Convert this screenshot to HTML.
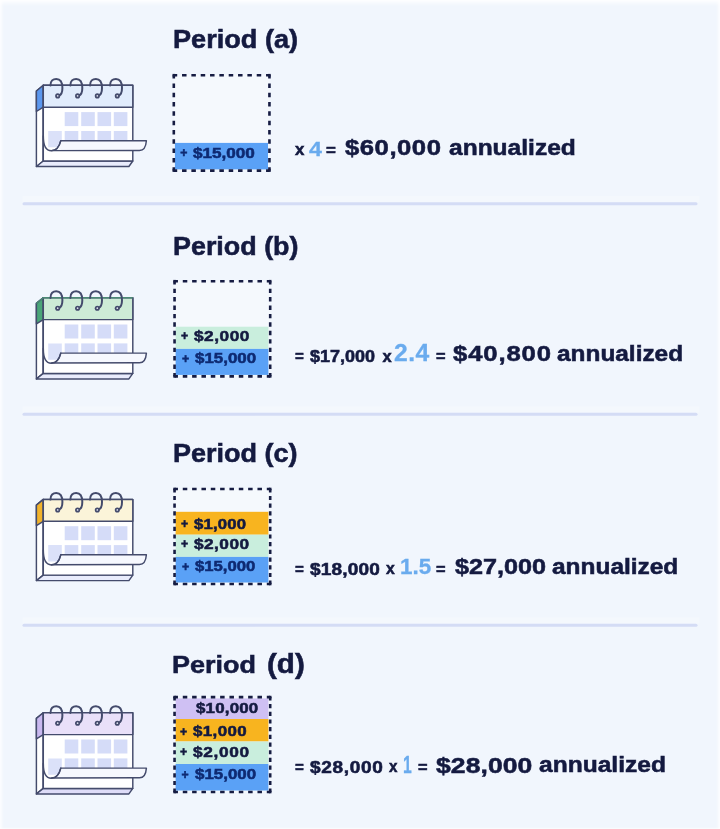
<!DOCTYPE html>
<html lang="en">
<head>
<meta charset="utf-8">
<title>Annualized income periods</title>
<style>
html,body{margin:0;padding:0;}
body{width:720px;height:829px;overflow:hidden;background:#f1f6fd;font-family:"Liberation Sans",sans-serif;}
#stage{position:relative;width:720px;height:829px;overflow:hidden;background:#f1f6fd;
  box-shadow:inset 0 5px 4px -2px rgba(255,255,255,.9), inset 3px 0 3px -1px rgba(255,255,255,.8), inset -3px 0 3px -1px rgba(255,255,255,.8), inset 0 -2px 2px -1px rgba(255,255,255,.7);}
#content{position:absolute;left:0;top:0;width:720px;height:829px;filter:blur(0.45px);}
#art{position:absolute;left:0;top:0;width:720px;height:829px;}
.t{position:absolute;white-space:pre;font-weight:bold;transform-origin:0 50%;font-family:"Liberation Sans",sans-serif;-webkit-text-stroke:0.55px currentColor;}
</style>
</head>
<body>
<div id="stage">
<div id="content">
<svg id="art" width="720" height="829" viewBox="0 0 720 829">
<path d="M43.3 85.3 L36.4 91.0 L36.4 166.5 L43.3 161.0 Z" fill="#ffffff" stroke="#444b6c" stroke-width="1.45" stroke-linejoin="round"/>
<path d="M43.3 161.0 L132.8 161.0 L128.9 166.5 L36.4 166.5 Z" fill="#e9ecfc" stroke="#444b6c" stroke-width="1.45" stroke-linejoin="round"/>
<path d="M43.3 85.3 L36.4 91.0 L36.4 111.5 L43.3 107.2 Z" fill="#5b97ee" stroke="#444b6c" stroke-width="1.45" stroke-linejoin="round"/>
<rect x="43.3" y="85.3" width="89.5" height="75.7" fill="#ffffff" stroke="#444b6c" stroke-width="1.45" stroke-linejoin="round"/>
<rect x="43.3" y="85.3" width="89.5" height="21.9" fill="#e1ecfc" stroke="#444b6c" stroke-width="1.45" stroke-linejoin="round"/>
<rect x="64.7" y="112.1" width="13.6" height="14" fill="#d5dcf8"/>
<rect x="81.2" y="112.1" width="13.6" height="14" fill="#d5dcf8"/>
<rect x="97.5" y="112.1" width="13.6" height="14" fill="#d5dcf8"/>
<rect x="113.8" y="112.1" width="13.6" height="14" fill="#d5dcf8"/>
<path d="M48.2 131.0 L61.8 131.0 L61.8 141.0 L60.6 141.0 C59.8 144.0 58.8 146.0 57.5 147.3 L48.2 147.3 Z" fill="#d5dcf8" opacity="0.85"/>
<rect x="64.7" y="131.0" width="13.6" height="10" fill="#d5dcf8"/>
<rect x="81.2" y="131.0" width="13.6" height="10" fill="#d5dcf8"/>
<rect x="97.5" y="131.0" width="13.6" height="10" fill="#d5dcf8"/>
<rect x="113.8" y="131.0" width="13.6" height="10" fill="#d5dcf8"/>
<path d="M60.8 140.7 L146.4 140.7 C146 146.0 144 150.4 139.5 150.4 L51.5 150.6 C56.5 150.6 59.5 146.0 60.8 140.7 Z" fill="#f6f8fe" stroke="#444b6c" stroke-width="1.45" stroke-linejoin="round"/>
<path d="M43.3 136.0 C43.3 146.5 46 150.8 51.3 150.8 C56.5 150.8 59.5 146.0 60.8 140.7" fill="none" stroke="#444b6c" stroke-width="1.45" stroke-linecap="round"/>
<path d="M43.3 107.0 L43.3 161.0" stroke="#444b6c" stroke-width="1.45" fill="none"/>
<path d="M50.50 85.5 C50.30 80.7 53.10 78.9 56.30 78.9 C60.30 78.9 62.40 82.7 62.40 87.9 C62.40 92.3 61.10 94.7 59.10 95.5" fill="none" stroke="#444b6c" stroke-width="2" stroke-linecap="round"/>
<circle cx="57.70" cy="95.9" r="2.55" fill="#444b6c"/>
<circle cx="57.70" cy="95.8" r="0.85" fill="#d9ddea"/>
<path d="M70.40 85.5 C70.20 80.7 73.00 78.9 76.20 78.9 C80.20 78.9 82.30 82.7 82.30 87.9 C82.30 92.3 81.00 94.7 79.00 95.5" fill="none" stroke="#444b6c" stroke-width="2" stroke-linecap="round"/>
<circle cx="77.60" cy="95.9" r="2.55" fill="#444b6c"/>
<circle cx="77.60" cy="95.8" r="0.85" fill="#d9ddea"/>
<path d="M90.10 85.5 C89.90 80.7 92.70 78.9 95.90 78.9 C99.90 78.9 102.00 82.7 102.00 87.9 C102.00 92.3 100.70 94.7 98.70 95.5" fill="none" stroke="#444b6c" stroke-width="2" stroke-linecap="round"/>
<circle cx="97.30" cy="95.9" r="2.55" fill="#444b6c"/>
<circle cx="97.30" cy="95.8" r="0.85" fill="#d9ddea"/>
<path d="M110.10 85.5 C109.90 80.7 112.70 78.9 115.90 78.9 C119.90 78.9 122.00 82.7 122.00 87.9 C122.00 92.3 120.70 94.7 118.70 95.5" fill="none" stroke="#444b6c" stroke-width="2" stroke-linecap="round"/>
<circle cx="117.30" cy="95.9" r="2.55" fill="#444b6c"/>
<circle cx="117.30" cy="95.8" r="0.85" fill="#d9ddea"/>
<path d="M43.3 297.7 L36.4 303.4 L36.4 378.9 L43.3 373.4 Z" fill="#ffffff" stroke="#444b6c" stroke-width="1.45" stroke-linejoin="round"/>
<path d="M43.3 373.4 L132.8 373.4 L128.9 378.9 L36.4 378.9 Z" fill="#e9ecfc" stroke="#444b6c" stroke-width="1.45" stroke-linejoin="round"/>
<path d="M43.3 297.7 L36.4 303.4 L36.4 323.9 L43.3 319.6 Z" fill="#4aa578" stroke="#444b6c" stroke-width="1.45" stroke-linejoin="round"/>
<rect x="43.3" y="297.7" width="89.5" height="75.7" fill="#ffffff" stroke="#444b6c" stroke-width="1.45" stroke-linejoin="round"/>
<rect x="43.3" y="297.7" width="89.5" height="21.9" fill="#cdebd6" stroke="#444b6c" stroke-width="1.45" stroke-linejoin="round"/>
<path d="M36.3 303.4 L43.3 297.7 L132.8 297.7" fill="none" stroke="#4c8a75" stroke-width="1.45" stroke-linejoin="round"/>
<rect x="64.7" y="324.5" width="13.6" height="14" fill="#d5dcf8"/>
<rect x="81.2" y="324.5" width="13.6" height="14" fill="#d5dcf8"/>
<rect x="97.5" y="324.5" width="13.6" height="14" fill="#d5dcf8"/>
<rect x="113.8" y="324.5" width="13.6" height="14" fill="#d5dcf8"/>
<path d="M48.2 343.4 L61.8 343.4 L61.8 353.4 L60.6 353.4 C59.8 356.4 58.8 358.4 57.5 359.7 L48.2 359.7 Z" fill="#d5dcf8" opacity="0.85"/>
<rect x="64.7" y="343.4" width="13.6" height="10" fill="#d5dcf8"/>
<rect x="81.2" y="343.4" width="13.6" height="10" fill="#d5dcf8"/>
<rect x="97.5" y="343.4" width="13.6" height="10" fill="#d5dcf8"/>
<rect x="113.8" y="343.4" width="13.6" height="10" fill="#d5dcf8"/>
<path d="M60.8 353.1 L146.4 353.1 C146 358.4 144 362.8 139.5 362.8 L51.5 363.0 C56.5 363.0 59.5 358.4 60.8 353.1 Z" fill="#f6f8fe" stroke="#444b6c" stroke-width="1.45" stroke-linejoin="round"/>
<path d="M43.3 348.4 C43.3 358.9 46 363.2 51.3 363.2 C56.5 363.2 59.5 358.4 60.8 353.1" fill="none" stroke="#444b6c" stroke-width="1.45" stroke-linecap="round"/>
<path d="M43.3 319.4 L43.3 373.4" stroke="#444b6c" stroke-width="1.45" fill="none"/>
<path d="M50.50 297.9 C50.30 293.1 53.10 291.3 56.30 291.3 C60.30 291.3 62.40 295.1 62.40 300.3 C62.40 304.7 61.10 307.1 59.10 307.9" fill="none" stroke="#444b6c" stroke-width="2" stroke-linecap="round"/>
<circle cx="57.70" cy="308.3" r="2.55" fill="#444b6c"/>
<circle cx="57.70" cy="308.2" r="0.85" fill="#d9ddea"/>
<path d="M70.40 297.9 C70.20 293.1 73.00 291.3 76.20 291.3 C80.20 291.3 82.30 295.1 82.30 300.3 C82.30 304.7 81.00 307.1 79.00 307.9" fill="none" stroke="#444b6c" stroke-width="2" stroke-linecap="round"/>
<circle cx="77.60" cy="308.3" r="2.55" fill="#444b6c"/>
<circle cx="77.60" cy="308.2" r="0.85" fill="#d9ddea"/>
<path d="M90.10 297.9 C89.90 293.1 92.70 291.3 95.90 291.3 C99.90 291.3 102.00 295.1 102.00 300.3 C102.00 304.7 100.70 307.1 98.70 307.9" fill="none" stroke="#444b6c" stroke-width="2" stroke-linecap="round"/>
<circle cx="97.30" cy="308.3" r="2.55" fill="#444b6c"/>
<circle cx="97.30" cy="308.2" r="0.85" fill="#d9ddea"/>
<path d="M110.10 297.9 C109.90 293.1 112.70 291.3 115.90 291.3 C119.90 291.3 122.00 295.1 122.00 300.3 C122.00 304.7 120.70 307.1 118.70 307.9" fill="none" stroke="#444b6c" stroke-width="2" stroke-linecap="round"/>
<circle cx="117.30" cy="308.3" r="2.55" fill="#444b6c"/>
<circle cx="117.30" cy="308.2" r="0.85" fill="#d9ddea"/>
<path d="M43.3 499.4 L36.4 505.1 L36.4 580.6 L43.3 575.1 Z" fill="#ffffff" stroke="#444b6c" stroke-width="1.45" stroke-linejoin="round"/>
<path d="M43.3 575.1 L132.8 575.1 L128.9 580.6 L36.4 580.6 Z" fill="#e9ecfc" stroke="#444b6c" stroke-width="1.45" stroke-linejoin="round"/>
<path d="M43.3 499.4 L36.4 505.1 L36.4 525.6 L43.3 521.3 Z" fill="#f2b32b" stroke="#444b6c" stroke-width="1.45" stroke-linejoin="round"/>
<rect x="43.3" y="499.4" width="89.5" height="75.7" fill="#ffffff" stroke="#444b6c" stroke-width="1.45" stroke-linejoin="round"/>
<rect x="43.3" y="499.4" width="89.5" height="21.9" fill="#fbf4d9" stroke="#444b6c" stroke-width="1.45" stroke-linejoin="round"/>
<rect x="64.7" y="526.2" width="13.6" height="14" fill="#d5dcf8"/>
<rect x="81.2" y="526.2" width="13.6" height="14" fill="#d5dcf8"/>
<rect x="97.5" y="526.2" width="13.6" height="14" fill="#d5dcf8"/>
<rect x="113.8" y="526.2" width="13.6" height="14" fill="#d5dcf8"/>
<path d="M48.2 545.1 L61.8 545.1 L61.8 555.1 L60.6 555.1 C59.8 558.1 58.8 560.1 57.5 561.4 L48.2 561.4 Z" fill="#d5dcf8" opacity="0.85"/>
<rect x="64.7" y="545.1" width="13.6" height="10" fill="#d5dcf8"/>
<rect x="81.2" y="545.1" width="13.6" height="10" fill="#d5dcf8"/>
<rect x="97.5" y="545.1" width="13.6" height="10" fill="#d5dcf8"/>
<rect x="113.8" y="545.1" width="13.6" height="10" fill="#d5dcf8"/>
<path d="M60.8 554.8 L146.4 554.8 C146 560.1 144 564.5 139.5 564.5 L51.5 564.7 C56.5 564.7 59.5 560.1 60.8 554.8 Z" fill="#f6f8fe" stroke="#444b6c" stroke-width="1.45" stroke-linejoin="round"/>
<path d="M43.3 550.1 C43.3 560.6 46 564.9 51.3 564.9 C56.5 564.9 59.5 560.1 60.8 554.8" fill="none" stroke="#444b6c" stroke-width="1.45" stroke-linecap="round"/>
<path d="M43.3 521.1 L43.3 575.1" stroke="#444b6c" stroke-width="1.45" fill="none"/>
<path d="M50.50 499.6 C50.30 494.8 53.10 493.0 56.30 493.0 C60.30 493.0 62.40 496.8 62.40 502.0 C62.40 506.4 61.10 508.8 59.10 509.6" fill="none" stroke="#444b6c" stroke-width="2" stroke-linecap="round"/>
<circle cx="57.70" cy="510.0" r="2.55" fill="#444b6c"/>
<circle cx="57.70" cy="509.9" r="0.85" fill="#d9ddea"/>
<path d="M70.40 499.6 C70.20 494.8 73.00 493.0 76.20 493.0 C80.20 493.0 82.30 496.8 82.30 502.0 C82.30 506.4 81.00 508.8 79.00 509.6" fill="none" stroke="#444b6c" stroke-width="2" stroke-linecap="round"/>
<circle cx="77.60" cy="510.0" r="2.55" fill="#444b6c"/>
<circle cx="77.60" cy="509.9" r="0.85" fill="#d9ddea"/>
<path d="M90.10 499.6 C89.90 494.8 92.70 493.0 95.90 493.0 C99.90 493.0 102.00 496.8 102.00 502.0 C102.00 506.4 100.70 508.8 98.70 509.6" fill="none" stroke="#444b6c" stroke-width="2" stroke-linecap="round"/>
<circle cx="97.30" cy="510.0" r="2.55" fill="#444b6c"/>
<circle cx="97.30" cy="509.9" r="0.85" fill="#d9ddea"/>
<path d="M110.10 499.6 C109.90 494.8 112.70 493.0 115.90 493.0 C119.90 493.0 122.00 496.8 122.00 502.0 C122.00 506.4 120.70 508.8 118.70 509.6" fill="none" stroke="#444b6c" stroke-width="2" stroke-linecap="round"/>
<circle cx="117.30" cy="510.0" r="2.55" fill="#444b6c"/>
<circle cx="117.30" cy="509.9" r="0.85" fill="#d9ddea"/>
<path d="M43.3 712.7 L36.4 718.4 L36.4 793.9 L43.3 788.4 Z" fill="#ffffff" stroke="#444b6c" stroke-width="1.45" stroke-linejoin="round"/>
<path d="M43.3 788.4 L132.8 788.4 L128.9 793.9 L36.4 793.9 Z" fill="#dedcf8" stroke="#444b6c" stroke-width="1.45" stroke-linejoin="round"/>
<path d="M43.3 712.7 L36.4 718.4 L36.4 738.9 L43.3 734.6 Z" fill="#c9b8ef" stroke="#444b6c" stroke-width="1.45" stroke-linejoin="round"/>
<rect x="43.3" y="712.7" width="89.5" height="75.7" fill="#ffffff" stroke="#444b6c" stroke-width="1.45" stroke-linejoin="round"/>
<rect x="43.3" y="712.7" width="89.5" height="21.9" fill="#e9e0f9" stroke="#444b6c" stroke-width="1.45" stroke-linejoin="round"/>
<rect x="64.7" y="739.5" width="13.6" height="14" fill="#d5dcf8"/>
<rect x="81.2" y="739.5" width="13.6" height="14" fill="#d5dcf8"/>
<rect x="97.5" y="739.5" width="13.6" height="14" fill="#d5dcf8"/>
<rect x="113.8" y="739.5" width="13.6" height="14" fill="#d5dcf8"/>
<path d="M48.2 758.4 L61.8 758.4 L61.8 768.4 L60.6 768.4 C59.8 771.4 58.8 773.4 57.5 774.7 L48.2 774.7 Z" fill="#d5dcf8" opacity="0.85"/>
<rect x="64.7" y="758.4" width="13.6" height="10" fill="#d5dcf8"/>
<rect x="81.2" y="758.4" width="13.6" height="10" fill="#d5dcf8"/>
<rect x="97.5" y="758.4" width="13.6" height="10" fill="#d5dcf8"/>
<rect x="113.8" y="758.4" width="13.6" height="10" fill="#d5dcf8"/>
<path d="M60.8 768.1 L146.4 768.1 C146 773.4 144 777.8 139.5 777.8 L51.5 778.0 C56.5 778.0 59.5 773.4 60.8 768.1 Z" fill="#f6f8fe" stroke="#444b6c" stroke-width="1.45" stroke-linejoin="round"/>
<path d="M43.3 763.4 C43.3 773.9 46 778.2 51.3 778.2 C56.5 778.2 59.5 773.4 60.8 768.1" fill="none" stroke="#444b6c" stroke-width="1.45" stroke-linecap="round"/>
<path d="M43.3 734.4 L43.3 788.4" stroke="#444b6c" stroke-width="1.45" fill="none"/>
<path d="M50.50 712.9 C50.30 708.1 53.10 706.3 56.30 706.3 C60.30 706.3 62.40 710.1 62.40 715.3 C62.40 719.7 61.10 722.1 59.10 722.9" fill="none" stroke="#444b6c" stroke-width="2" stroke-linecap="round"/>
<circle cx="57.70" cy="723.3" r="2.55" fill="#444b6c"/>
<circle cx="57.70" cy="723.2" r="0.85" fill="#d9ddea"/>
<path d="M70.40 712.9 C70.20 708.1 73.00 706.3 76.20 706.3 C80.20 706.3 82.30 710.1 82.30 715.3 C82.30 719.7 81.00 722.1 79.00 722.9" fill="none" stroke="#444b6c" stroke-width="2" stroke-linecap="round"/>
<circle cx="77.60" cy="723.3" r="2.55" fill="#444b6c"/>
<circle cx="77.60" cy="723.2" r="0.85" fill="#d9ddea"/>
<path d="M90.10 712.9 C89.90 708.1 92.70 706.3 95.90 706.3 C99.90 706.3 102.00 710.1 102.00 715.3 C102.00 719.7 100.70 722.1 98.70 722.9" fill="none" stroke="#444b6c" stroke-width="2" stroke-linecap="round"/>
<circle cx="97.30" cy="723.3" r="2.55" fill="#444b6c"/>
<circle cx="97.30" cy="723.2" r="0.85" fill="#d9ddea"/>
<path d="M110.10 712.9 C109.90 708.1 112.70 706.3 115.90 706.3 C119.90 706.3 122.00 710.1 122.00 715.3 C122.00 719.7 120.70 722.1 118.70 722.9" fill="none" stroke="#444b6c" stroke-width="2" stroke-linecap="round"/>
<circle cx="117.30" cy="723.3" r="2.55" fill="#444b6c"/>
<circle cx="117.30" cy="723.2" r="0.85" fill="#d9ddea"/>
<rect x="173.8" y="75.2" width="95.65" height="95.4" fill="#ffffff" opacity="0.3"/>
<rect x="174.9" y="142.9" width="93.1" height="26.5" fill="#5aa1f6"/>
<line x1="173.8" y1="75.2" x2="269.45" y2="75.2" stroke="#161c42" stroke-width="2.6" stroke-dasharray="4.5 4.835" stroke-dashoffset="1.100"/>
<line x1="269.45" y1="75.2" x2="269.45" y2="170.6" stroke="#161c42" stroke-width="2.6" stroke-dasharray="4.5 4.810" stroke-dashoffset="1.100"/>
<line x1="173.8" y1="170.6" x2="269.45" y2="170.6" stroke="#161c42" stroke-width="2.6" stroke-dasharray="4.5 4.835" stroke-dashoffset="1.100"/>
<line x1="173.8" y1="75.2" x2="173.8" y2="170.6" stroke="#161c42" stroke-width="2.6" stroke-dasharray="4.5 4.810" stroke-dashoffset="1.100"/>
<rect x="172.50" y="73.90" width="2.6" height="2.6" fill="#161c42"/>
<rect x="268.15" y="73.90" width="2.6" height="2.6" fill="#161c42"/>
<rect x="172.50" y="169.30" width="2.6" height="2.6" fill="#161c42"/>
<rect x="268.15" y="169.30" width="2.6" height="2.6" fill="#161c42"/>
<rect x="174.55" y="281.2" width="95.65" height="95.15" fill="#ffffff" opacity="0.3"/>
<rect x="175.6" y="326.7" width="92.8" height="22.2" fill="#c9eedd"/>
<rect x="175.6" y="348.9" width="92.8" height="26.0" fill="#5aa1f6"/>
<line x1="174.55" y1="281.2" x2="270.2" y2="281.2" stroke="#161c42" stroke-width="2.6" stroke-dasharray="4.5 4.835" stroke-dashoffset="1.100"/>
<line x1="270.2" y1="281.2" x2="270.2" y2="376.35" stroke="#161c42" stroke-width="2.6" stroke-dasharray="4.4 4.032" stroke-dashoffset="1.000"/>
<line x1="174.55" y1="376.35" x2="270.2" y2="376.35" stroke="#161c42" stroke-width="2.6" stroke-dasharray="4.5 4.835" stroke-dashoffset="1.100"/>
<line x1="174.55" y1="281.2" x2="174.55" y2="376.35" stroke="#161c42" stroke-width="2.6" stroke-dasharray="4.4 4.032" stroke-dashoffset="1.000"/>
<rect x="173.25" y="279.90" width="2.6" height="2.6" fill="#161c42"/>
<rect x="268.90" y="279.90" width="2.6" height="2.6" fill="#161c42"/>
<rect x="173.25" y="375.05" width="2.6" height="2.6" fill="#161c42"/>
<rect x="268.90" y="375.05" width="2.6" height="2.6" fill="#161c42"/>
<rect x="174.55" y="489.0" width="95.65" height="95.0" fill="#ffffff" opacity="0.3"/>
<rect x="175.6" y="511.8" width="92.8" height="22.9" fill="#f8b41f"/>
<rect x="175.6" y="534.7" width="92.8" height="22.2" fill="#c9eedd"/>
<rect x="175.6" y="556.9" width="92.8" height="25.6" fill="#5aa1f6"/>
<line x1="174.55" y1="489.0" x2="270.2" y2="489.0" stroke="#161c42" stroke-width="2.6" stroke-dasharray="4.5 4.835" stroke-dashoffset="1.100"/>
<line x1="270.2" y1="489.0" x2="270.2" y2="584.0" stroke="#161c42" stroke-width="2.6" stroke-dasharray="4.2 3.500" stroke-dashoffset="0.800"/>
<line x1="174.55" y1="584.0" x2="270.2" y2="584.0" stroke="#161c42" stroke-width="2.6" stroke-dasharray="4.5 4.835" stroke-dashoffset="1.100"/>
<line x1="174.55" y1="489.0" x2="174.55" y2="584.0" stroke="#161c42" stroke-width="2.6" stroke-dasharray="4.2 3.500" stroke-dashoffset="0.800"/>
<rect x="173.25" y="487.70" width="2.6" height="2.6" fill="#161c42"/>
<rect x="268.90" y="487.70" width="2.6" height="2.6" fill="#161c42"/>
<rect x="173.25" y="582.70" width="2.6" height="2.6" fill="#161c42"/>
<rect x="268.90" y="582.70" width="2.6" height="2.6" fill="#161c42"/>
<rect x="174.55" y="697.1" width="95.65" height="94.9" fill="#ffffff" opacity="0.3"/>
<rect x="175.6" y="698.4" width="92.8" height="20.6" fill="#cfc0f3"/>
<rect x="175.6" y="719.0" width="92.8" height="22.5" fill="#f8b41f"/>
<rect x="175.6" y="741.5" width="92.8" height="22.5" fill="#c9eedd"/>
<rect x="175.6" y="764.0" width="92.8" height="26.5" fill="#5aa1f6"/>
<line x1="174.55" y1="697.1" x2="270.2" y2="697.1" stroke="#161c42" stroke-width="2.6" stroke-dasharray="4.5 4.835" stroke-dashoffset="1.100"/>
<line x1="270.2" y1="697.1" x2="270.2" y2="792.0" stroke="#161c42" stroke-width="2.6" stroke-dasharray="4.2 3.492" stroke-dashoffset="0.800"/>
<line x1="174.55" y1="792.0" x2="270.2" y2="792.0" stroke="#161c42" stroke-width="2.6" stroke-dasharray="4.5 4.835" stroke-dashoffset="1.100"/>
<line x1="174.55" y1="697.1" x2="174.55" y2="792.0" stroke="#161c42" stroke-width="2.6" stroke-dasharray="4.2 3.492" stroke-dashoffset="0.800"/>
<rect x="173.25" y="695.80" width="2.6" height="2.6" fill="#161c42"/>
<rect x="268.90" y="695.80" width="2.6" height="2.6" fill="#161c42"/>
<rect x="173.25" y="790.70" width="2.6" height="2.6" fill="#161c42"/>
<rect x="268.90" y="790.70" width="2.6" height="2.6" fill="#161c42"/>
<rect x="22.5" y="195.8" width="677" height="6.5" fill="#ffffff" opacity="0.22"/>
<rect x="22.5" y="202.3" width="675" height="3" rx="1.5" fill="#d4dcf5"/>
<rect x="22.5" y="406.2" width="677" height="6.5" fill="#ffffff" opacity="0.22"/>
<rect x="22.5" y="412.7" width="675" height="3" rx="1.5" fill="#d4dcf5"/>
<rect x="22.5" y="617.3" width="677" height="6.5" fill="#ffffff" opacity="0.22"/>
<rect x="22.5" y="623.8" width="675" height="3" rx="1.5" fill="#d4dcf5"/>
</svg>
<section class="row" aria-label="Period (a)">
<span class="t" style="left:172.83px;top:26.63px;font-size:25.24px;line-height:25.24px;color:#141a40;letter-spacing:0.0px;transform:scaleX(1.0748)">Period (a)</span>
<span class="t" style="left:294.80px;top:141.35px;font-size:16.48px;line-height:16.48px;color:#141a40;letter-spacing:0.0px;transform:scaleX(1.0222)">x</span>
<span class="t" style="left:308.60px;top:137.50px;font-size:21.14px;line-height:21.14px;color:#6aabee;letter-spacing:0.0px;transform:scaleX(1.1);-webkit-text-stroke:0.3px currentColor">4</span>
<span class="t" style="left:326.00px;top:142.96px;font-size:16.0px;line-height:16.0px;color:#141a40;letter-spacing:0.0px;transform:scaleX(1.0556)">=</span>
<span class="t" style="left:344.50px;top:136.76px;font-size:22.14px;line-height:22.14px;color:#141a40;letter-spacing:0.45px;transform:scaleX(1.16)">$60,000</span>
<span class="t" style="left:448.50px;top:136.79px;font-size:22.1px;line-height:22.1px;color:#141a40;letter-spacing:0.0px;transform:scaleX(1.1106)">annualized</span>
<span class="t" style="left:192.90px;top:144.98px;font-size:15.14px;line-height:15.14px;color:#0e2a72;letter-spacing:0.0px;transform:scaleX(1.1315)">$15,000</span>
<span class="t p" style="left:180.24px;top:146.86px;font-size:12.2px;line-height:12.2px;color:#0e2a72">+</span>
</section>
<section class="row" aria-label="Period (b)">
<span class="t" style="left:172.83px;top:233.63px;font-size:25.24px;line-height:25.24px;color:#141a40;letter-spacing:0.0px;transform:scaleX(1.0655)">Period (b)</span>
<span class="t" style="left:295.30px;top:348.96px;font-size:16.0px;line-height:16.0px;color:#141a40;letter-spacing:0.0px;transform:scaleX(0.9444)">=</span>
<span class="t" style="left:310.00px;top:347.59px;font-size:16.43px;line-height:16.43px;color:#141a40;letter-spacing:0.0px;transform:scaleX(1.0966)">$17,000</span>
<span class="t" style="left:382.60px;top:347.65px;font-size:16.48px;line-height:16.48px;color:#141a40;letter-spacing:0.0px;transform:scaleX(1.0)">x</span>
<span class="t" style="left:394.44px;top:341.79px;font-size:23.29px;line-height:23.29px;color:#6aabee;letter-spacing:0.44px;transform:scaleX(1.06);-webkit-text-stroke:0.3px currentColor">2.4</span>
<span class="t" style="left:435.80px;top:348.96px;font-size:16.0px;line-height:16.0px;color:#141a40;letter-spacing:0.0px;transform:scaleX(1.0222)">=</span>
<span class="t" style="left:453.40px;top:342.76px;font-size:22.14px;line-height:22.14px;color:#141a40;letter-spacing:0.75px;transform:scaleX(1.16)">$40,800</span>
<span class="t" style="left:557.20px;top:342.79px;font-size:22.1px;line-height:22.1px;color:#141a40;letter-spacing:0.0px;transform:scaleX(1.1044)">annualized</span>
<span class="t" style="left:193.70px;top:328.72px;font-size:14.86px;line-height:14.86px;color:#141a40;letter-spacing:0.46px;transform:scaleX(1.16)">$2,000</span>
<span class="t" style="left:195.20px;top:351.05px;font-size:14.71px;line-height:14.71px;color:#0e2a72;letter-spacing:0.0px;transform:scaleX(1.1509)">$15,000</span>
<span class="t p" style="left:180.94px;top:330.46px;font-size:12.2px;line-height:12.2px;color:#141a40">+</span>
<span class="t p" style="left:182.04px;top:352.86px;font-size:12.2px;line-height:12.2px;color:#0e2a72">+</span>
</section>
<section class="row" aria-label="Period (c)">
<span class="t" style="left:172.83px;top:440.63px;font-size:25.24px;line-height:25.24px;color:#141a40;letter-spacing:0.0px;transform:scaleX(1.0704)">Period (c)</span>
<span class="t" style="left:295.30px;top:561.96px;font-size:16.0px;line-height:16.0px;color:#141a40;letter-spacing:0.0px;transform:scaleX(0.9444)">=</span>
<span class="t" style="left:310.00px;top:560.59px;font-size:16.43px;line-height:16.43px;color:#141a40;letter-spacing:0.14px;transform:scaleX(1.1603)">$18,000</span>
<span class="t" style="left:386.20px;top:560.25px;font-size:16.48px;line-height:16.48px;color:#141a40;letter-spacing:0.0px;transform:scaleX(0.9556)">x</span>
<span class="t" style="left:399.71px;top:555.28px;font-size:22.71px;line-height:22.71px;color:#6aabee;letter-spacing:0.0px;transform:scaleX(0.9867);-webkit-text-stroke:0.3px currentColor">1.5</span>
<span class="t" style="left:435.80px;top:561.96px;font-size:16.0px;line-height:16.0px;color:#141a40;letter-spacing:0.0px;transform:scaleX(1.0222)">=</span>
<span class="t" style="left:454.50px;top:555.51px;font-size:22.43px;line-height:22.43px;color:#141a40;letter-spacing:0.0px;transform:scaleX(1.1237)">$27,000</span>
<span class="t" style="left:551.70px;top:555.79px;font-size:22.1px;line-height:22.1px;color:#141a40;letter-spacing:0.0px;transform:scaleX(1.1062)">annualized</span>
<span class="t" style="left:193.70px;top:516.59px;font-size:14.43px;line-height:14.43px;color:#141a40;letter-spacing:0.17px;transform:scaleX(1.1602)">$1,000</span>
<span class="t" style="left:193.70px;top:536.72px;font-size:14.86px;line-height:14.86px;color:#141a40;letter-spacing:0.4px;transform:scaleX(1.16)">$2,000</span>
<span class="t" style="left:195.20px;top:559.02px;font-size:14.86px;line-height:14.86px;color:#0e2a72;letter-spacing:0.0px;transform:scaleX(1.1241)">$15,000</span>
<span class="t p" style="left:180.94px;top:518.16px;font-size:12.2px;line-height:12.2px;color:#141a40">+</span>
<span class="t p" style="left:180.94px;top:538.46px;font-size:12.2px;line-height:12.2px;color:#141a40">+</span>
<span class="t p" style="left:182.04px;top:560.86px;font-size:12.2px;line-height:12.2px;color:#0e2a72">+</span>
</section>
<section class="row" aria-label="Period (d)">
<span class="t" style="left:172.48px;top:653.48px;font-size:24.01px;line-height:24.01px;color:#141a40;letter-spacing:0.0px;transform:scaleX(1.1233)">Period</span>
<span class="t" style="left:267.13px;top:649.94px;font-size:27.6px;line-height:27.6px;color:#141a40;letter-spacing:0.0px;transform:scaleX(1.0727)">(d)</span>
<span class="t" style="left:295.30px;top:760.46px;font-size:16.0px;line-height:16.0px;color:#141a40;letter-spacing:0.0px;transform:scaleX(0.9444)">=</span>
<span class="t" style="left:310.00px;top:759.09px;font-size:16.43px;line-height:16.43px;color:#141a40;letter-spacing:0.56px;transform:scaleX(1.16)">$28,000</span>
<span class="t" style="left:389.40px;top:758.35px;font-size:16.48px;line-height:16.48px;color:#141a40;letter-spacing:0.0px;transform:scaleX(0.9222)">x</span>
<span class="t" style="left:402.92px;top:753.83px;font-size:23.0px;line-height:23.0px;color:#6aabee;letter-spacing:0.0px;transform:scaleX(0.6833);-webkit-text-stroke:0.3px currentColor">1</span>
<span class="t" style="left:417.50px;top:760.46px;font-size:16.0px;line-height:16.0px;color:#141a40;letter-spacing:0.0px;transform:scaleX(1.0222)">=</span>
<span class="t" style="left:436.40px;top:753.65px;font-size:22.86px;line-height:22.86px;color:#141a40;letter-spacing:0.06px;transform:scaleX(1.1602)">$28,000</span>
<span class="t" style="left:539.40px;top:754.29px;font-size:22.1px;line-height:22.1px;color:#141a40;letter-spacing:0.0px;transform:scaleX(1.1115)">annualized</span>
<span class="t" style="left:196.00px;top:700.67px;font-size:14.57px;line-height:14.57px;color:#141a40;letter-spacing:0.16px;transform:scaleX(1.1604)">$10,000</span>
<span class="t" style="left:192.90px;top:724.47px;font-size:14.57px;line-height:14.57px;color:#141a40;letter-spacing:0.33px;transform:scaleX(1.1602)">$1,000</span>
<span class="t" style="left:192.90px;top:744.72px;font-size:14.86px;line-height:14.86px;color:#141a40;letter-spacing:0.56px;transform:scaleX(1.16)">$2,000</span>
<span class="t" style="left:195.20px;top:767.27px;font-size:14.57px;line-height:14.57px;color:#0e2a72;letter-spacing:0.01px;transform:scaleX(1.1604)">$15,000</span>
<span class="t p" style="left:180.04px;top:726.16px;font-size:12.2px;line-height:12.2px;color:#141a40">+</span>
<span class="t p" style="left:180.04px;top:746.46px;font-size:12.2px;line-height:12.2px;color:#141a40">+</span>
<span class="t p" style="left:181.44px;top:768.86px;font-size:12.2px;line-height:12.2px;color:#0e2a72">+</span>
</section>
</div>
</div>
</body>
</html>
